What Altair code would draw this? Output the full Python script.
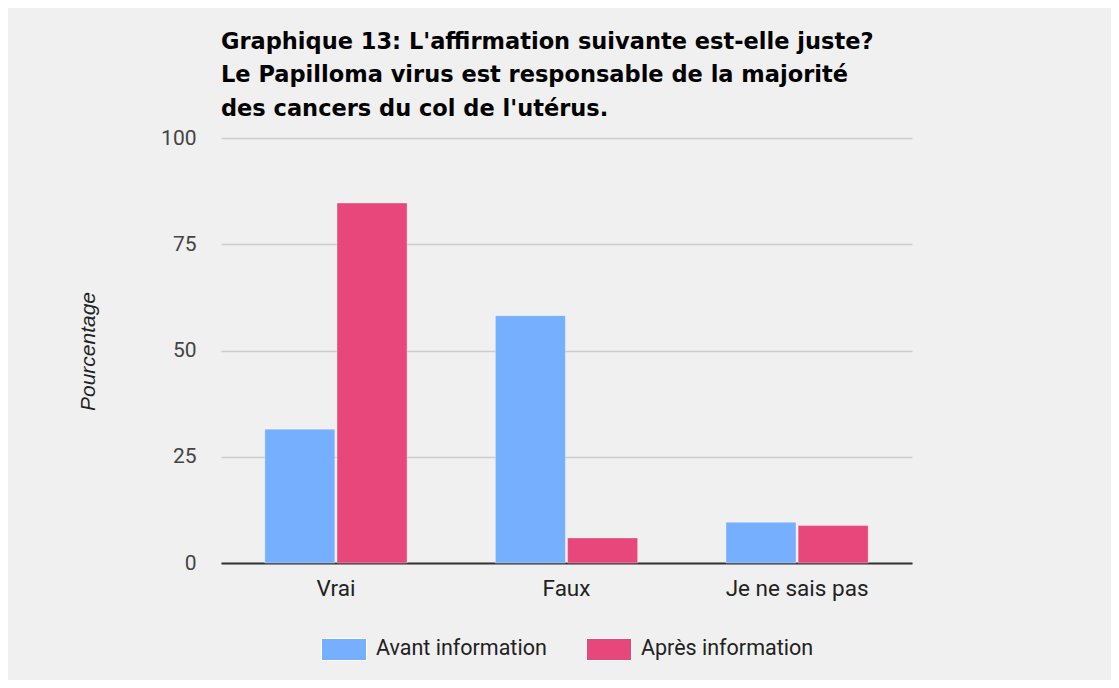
import altair as alt
import pandas as pd

categories = ["Vrai", "Faux", "Je ne sais pas"]
series = ["Avant information", "Après information"]
avant = [31.5, 58.2, 9.6]
apres = [84.7, 5.9, 8.8]
colors = ["#76affd", "#e8477b"]
y_ticks = [0, 25, 50, 75, 100]
title_lines = [
    "Graphique 13: L'affirmation suivante est-elle juste?",
    "Le Papilloma virus est responsable de la majorité",
    "des cancers du col de l'utérus.",
]

rows = []
for c, a, b in zip(categories, avant, apres):
    rows.append({"cat": c, "serie": series[0], "val": a})
    rows.append({"cat": c, "serie": series[1], "val": b})
df = pd.DataFrame(rows)

LABEL_FONT = "Roboto"

bars = alt.Chart(df).mark_bar(strokeWidth=1, strokeOpacity=0.35, stroke="#ffffff").encode(
    x=alt.X("cat:N", sort=categories,
            scale=alt.Scale(paddingInner=0.383, paddingOuter=0.19),
            axis=alt.Axis(title=None, labelAngle=0, labelFont=LABEL_FONT, labelFontSize=22.5,
                          labelColor="#222222", labelPadding=14, ticks=False,
                          domain=True, domainColor="#333333", domainWidth=2)),
    xOffset=alt.XOffset("serie:N", sort=series, scale=alt.Scale(paddingInner=0.03, paddingOuter=0)),
    y=alt.Y("val:Q", scale=alt.Scale(domain=[0, 100], nice=False),
            axis=alt.Axis(values=y_ticks, title="Pourcentage", titleFont="Liberation Sans",
                          titleFontStyle="italic", titleFontWeight="normal", titleFontSize=21,
                          titleColor="#222222", titleX=-133, titleY=213, titleAngle=-90,
                          titleAlign="center", titleBaseline="middle",
                          labelFont=LABEL_FONT, labelFontSize=21, labelColor="#444444",
                          labelPadding=25, ticks=False, domain=False,
                          grid=True, gridColor="#cccccc", gridWidth=1.5)),
    color=alt.Color("serie:N", sort=series,
                    scale=alt.Scale(domain=series, range=colors),
                    legend=alt.Legend(title=None, orient="none", direction="horizontal",
                                      legendX=100, legendY=488,
                                      symbolType="M-1,-0.489H1V0.489H-1Z", symbolSize=2025,
                                      symbolStrokeWidth=1, symbolStrokeColor="#ffffff",
                                      labelFont=LABEL_FONT, labelFontSize=21.5, labelLimit=400,
                                      labelColor="#222222", labelOffset=9,
                                      columnPadding=37, symbolOpacity=1)),
)

chart = bars.properties(
    width=691,
    height=425,
    title=alt.TitleParams(text=title_lines, anchor="start", frame="group",
                          font="DejaVu Sans", fontSize=22.5, fontWeight="bold",
                          color="#000000", lineHeight=33.5, offset=7),
    autosize=alt.AutoSizeParams(type="none"),
    padding={"left": 213, "top": 130, "right": 199, "bottom": 117},
    background="#f0f0f0",
).configure_view(stroke=None)

chart.save("out.html", embed_options={"renderer": "svg", "actions": False})
